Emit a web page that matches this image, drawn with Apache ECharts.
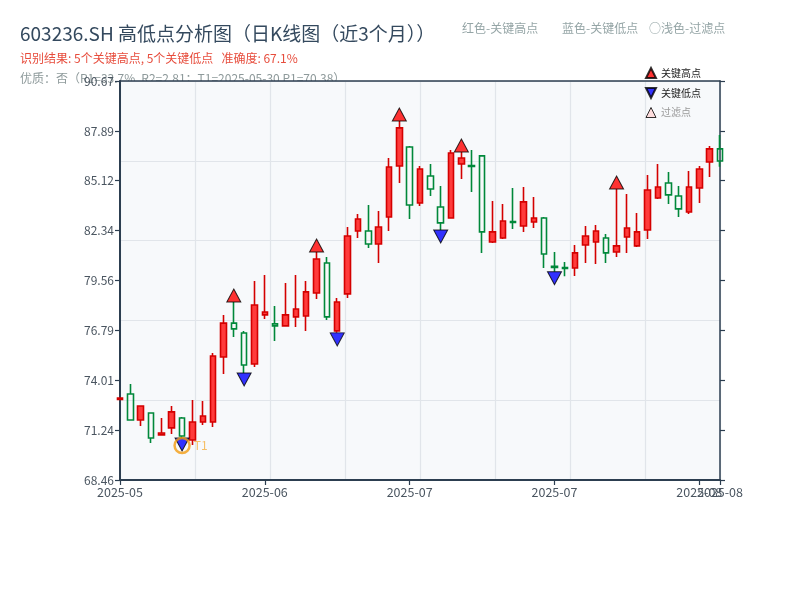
<!DOCTYPE html>
<html>
<head>
<meta charset="utf-8">
<title>603236.SH 高低点分析图</title>
<script src="https://cdn.jsdelivr.net/npm/echarts@6/dist/echarts.min.js"></script>
<style>
  html, body { margin: 0; padding: 0; background: #fff; }
  #chart { width: 800px; height: 600px; }
</style>
</head>
<body>
<div id="chart"></div>
<script>
// trading days shown on the x axis
var dates = [
  "2025-05-22", "2025-05-23", "2025-05-26", "2025-05-27", "2025-05-28", "2025-05-29", "2025-05-30",
  "2025-06-03", "2025-06-04", "2025-06-05", "2025-06-06", "2025-06-09", "2025-06-10", "2025-06-11",
  "2025-06-12", "2025-06-13", "2025-06-16", "2025-06-17", "2025-06-18", "2025-06-19", "2025-06-20",
  "2025-06-23", "2025-06-24", "2025-06-25", "2025-06-26", "2025-06-27", "2025-06-30", "2025-07-01",
  "2025-07-02", "2025-07-03", "2025-07-04", "2025-07-07", "2025-07-08", "2025-07-09", "2025-07-10",
  "2025-07-11", "2025-07-14", "2025-07-15", "2025-07-16", "2025-07-17", "2025-07-18", "2025-07-21",
  "2025-07-22", "2025-07-23", "2025-07-24", "2025-07-25", "2025-07-28", "2025-07-29", "2025-07-30",
  "2025-07-31", "2025-08-01", "2025-08-04", "2025-08-05", "2025-08-06", "2025-08-07", "2025-08-08",
  "2025-08-11", "2025-08-12", "2025-08-13"
];

var opens = [72.95, 73.25, 71.80, 72.19, 70.97, 71.36, 71.91, 70.69, 71.69, 71.69, 75.31, 77.19, 76.64, 74.92,
  77.65, 77.15, 77.04, 77.54, 77.59, 78.87, 80.54, 76.76, 78.82, 82.32, 82.32, 81.60, 83.10, 85.94,
  87.00, 83.88, 85.38, 83.66, 83.04, 86.05, 85.97, 86.50, 81.71, 81.93, 82.85, 82.60, 82.82, 83.04,
  80.35, 80.29, 80.26, 81.54, 81.71, 81.93, 81.15, 81.99, 81.49, 82.38, 84.16, 84.99, 84.27, 83.38,
  84.71, 86.16, 86.89];
var closes = [73.02, 71.80, 72.58, 70.80, 71.08, 72.25, 70.91, 71.69, 72.02, 75.36, 77.19, 76.87, 74.86, 78.20,
  77.81, 77.04, 77.65, 77.98, 78.93, 80.76, 77.54, 78.37, 82.04, 82.99, 81.60, 82.54, 85.88, 88.06,
  83.77, 85.77, 84.66, 82.77, 86.66, 86.38, 85.91, 82.27, 82.27, 82.88, 82.80, 83.94, 83.04, 81.04,
  80.29, 80.24, 81.10, 82.04, 82.32, 81.10, 81.49, 82.49, 82.27, 84.60, 84.77, 84.33, 83.55, 84.77,
  85.77, 86.89, 86.22];
var lows = [72.92, 71.78, 71.47, 70.52, 70.94, 71.02, 70.80, 70.41, 71.52, 71.41, 74.36, 76.42, 74.42, 74.75,
  77.42, 76.20, 77.00, 76.98, 76.76, 78.54, 77.37, 76.65, 78.59, 81.93, 81.38, 80.54, 82.32, 84.99,
  82.99, 83.71, 84.27, 82.38, 83.00, 85.22, 84.49, 81.10, 81.65, 81.88, 82.43, 82.27, 82.49, 80.26,
  80.05, 79.80, 79.82, 80.54, 80.49, 80.54, 80.87, 81.10, 81.43, 81.88, 84.10, 83.82, 83.10, 83.27,
  83.88, 85.33, 85.89];
var highs = [73.05, 73.81, 72.62, 72.19, 71.91, 72.58, 71.97, 72.92, 72.86, 75.53, 77.65, 78.37, 76.76, 79.54,
  79.87, 78.15, 79.43, 79.87, 79.54, 81.15, 80.87, 78.59, 82.54, 83.27, 83.77, 83.44, 86.38, 88.44,
  87.05, 85.94, 86.05, 84.83, 86.83, 86.72, 86.83, 86.55, 83.99, 83.83, 84.71, 84.77, 84.21, 83.10,
  81.15, 80.60, 81.54, 82.60, 82.66, 82.15, 84.66, 84.38, 83.32, 85.44, 86.05, 85.60, 84.83, 85.66,
  85.94, 87.05, 87.66];

var highIdx = [11, 19, 27, 33, 48];
var lowIdx = [6, 12, 21, 31, 42];
var t1Idx = 6;
var t1Price = 70.38;

var yTicks = [68.46, 71.24, 74.01, 76.79, 79.56, 82.34, 85.12, 87.89, 90.67];
var xTickIdx = [0, 14, 28, 42, 56];   // regular month ticks
var xLastIdx = 58;                    // extra tick on the last day

var FONT = '"Noto Sans CJK SC", "Noto Sans", sans-serif';
var AXIS = "#2c3e50";
var downTri = "path://M0,0 L10,0 L5,10 Z";

var kdata = dates.map(function (d, i) {
  return [opens[i], closes[i], lows[i], highs[i]];
});
var highPts = highIdx.map(function (i) { return [i, highs[i]]; });
var lowPts = lowIdx.map(function (i) { return [i, lows[i]]; });

var isTick = function (i) { return xTickIdx.indexOf(i) >= 0; };
var isLast = function (i) { return i === xLastIdx; };

function txt(x, y, s, size, color) {
  return { type: "text", z: -10, style: { x: x, y: y, text: s, font: size + "px " + FONT,
    fill: color, verticalAlign: "middle" } };
}

function bottomAxis(pick, showLine) {
  return {
    type: "category", data: dates, boundaryGap: false, position: "bottom",
    axisLine: { show: showLine, lineStyle: { color: AXIS, width: 2 } },
    axisTick: { interval: function (i) { return pick(i); }, length: 5, lineStyle: { color: AXIS, width: 1.2 } },
    axisLabel: {
      interval: function (i) { return pick(i); }, color: "#4a5560", fontSize: 12.5, margin: 6,
      showMinLabel: true, showMaxLabel: true, hideOverlap: false,
      formatter: function (v) { return v.slice(0, 7); }
    },
    splitLine: { show: false }
  };
}

var chart = echarts.init(document.getElementById("chart"), null, { renderer: "canvas" });

chart.setOption({
  animation: false,
  backgroundColor: "#fff",
  textStyle: { fontFamily: FONT },
  grid: {
    left: 120, right: 80, top: 81, bottom: 120,
    show: true, backgroundColor: "#f7f9fb", borderWidth: 0, z: 0
  },
  graphic: [
    txt(20, 34, "603236.SH 高低点分析图（日K线图（近3个月））", 19, "#34495e"),
    txt(462, 28, "红色-关键高点", 12, "#95a5a6"),
    txt(562, 28, "蓝色-关键低点", 12, "#95a5a6"),
    txt(649, 28, "○浅色-过滤点", 12, "#95a5a6"),
    txt(20, 58, "识别结果: 5个关键高点, 5个关键低点   准确度: 67.1%", 12, "#e74c3c"),
    txt(20, 78, "优质：否（R1=33.7%, R2=2.81；T1=2025-05-30 P1=70.38）", 12, "#8e9a9b")
  ],
  legend: {
    orient: "vertical", left: 640, top: 62,
    itemWidth: 10, itemHeight: 10, itemGap: 8,
    textStyle: { fontSize: 10, color: "#222" },
    data: [
      { name: "关键高点", icon: "triangle" },
      { name: "关键低点", icon: downTri },
      { name: "过滤点", icon: "triangle", itemStyle: { color: "#ffd6d6", borderColor: "#000", borderWidth: 1 },
        textStyle: { color: "#999" } }
    ]
  },
  xAxis: [
    bottomAxis(isTick, true),
    {
      type: "value", position: "top", min: 0, max: 8, interval: 1,
      axisLine: { show: true, lineStyle: { color: AXIS, width: 1.5 } },
      axisTick: { show: false }, axisLabel: { show: false },
      splitLine: { show: true, lineStyle: { color: "#e1e5ea", width: 1.2 } }
    },
    bottomAxis(isLast, false)
  ],
  yAxis: [
    {
      type: "value", min: 68.46, max: 90.67, position: "left",
      axisLine: { show: true, lineStyle: { color: AXIS, width: 2 } },
      axisTick: { show: true, customValues: yTicks, length: 5, lineStyle: { color: AXIS, width: 1.2 } },
      axisLabel: { customValues: yTicks, color: "#4a5560", fontSize: 12, margin: 6,
        formatter: function (v) { return v.toFixed(2); } },
      splitLine: { show: false }
    },
    {
      type: "value", min: 68.46, max: 90.67, position: "right",
      axisLine: { show: true, lineStyle: { color: AXIS, width: 1.5 } },
      axisTick: { show: true, customValues: yTicks, length: 5, lineStyle: { color: AXIS, width: 1.2 } },
      axisLabel: { show: false },
      splitLine: { show: false }
    },
    {
      type: "value", min: 0, max: 5, interval: 1, position: "right",
      axisLine: { show: false }, axisTick: { show: false }, axisLabel: { show: false },
      splitLine: { show: true, lineStyle: { color: "#e1e5ea", width: 1.2 } }
    }
  ],
  series: [
    {
      name: "K线", type: "candlestick", data: kdata, barWidth: 6,
      itemStyle: {
        color: "#ff3b3b", color0: "transparent",
        borderColor: "#d40000", borderColor0: "#00883a", borderWidth: 1.6
      }
    },
    {
      name: "关键高点", type: "scatter", data: highPts, symbol: "triangle", symbolSize: [14, 13],
      symbolOffset: [0, "-50%"], z: 4,
      itemStyle: { color: "#ff0000", borderColor: "#000", borderWidth: 1 }
    },
    {
      name: "关键低点", type: "scatter", data: lowPts, symbol: downTri, symbolSize: [14, 13],
      symbolOffset: [0, "50%"], z: 4,
      itemStyle: { color: "#0000ff", borderColor: "#000", borderWidth: 1 }
    },
    {
      name: "过滤点", type: "scatter", data: [], symbol: "triangle", symbolSize: 7,
      itemStyle: { color: "#ffd6d6", borderColor: "#000", borderWidth: 1 }
    },
    {
      name: "T1", type: "scatter", data: [[t1Idx, t1Price]], symbol: "circle", symbolSize: 15, z: 5,
      itemStyle: { color: "transparent", borderColor: "#f39c12", borderWidth: 2.5 },
      label: { show: true, position: "right", distance: 3, formatter: "T1", color: "#f5b041", fontSize: 12 }
    }
  ]
});
</script>
</body>
</html>
